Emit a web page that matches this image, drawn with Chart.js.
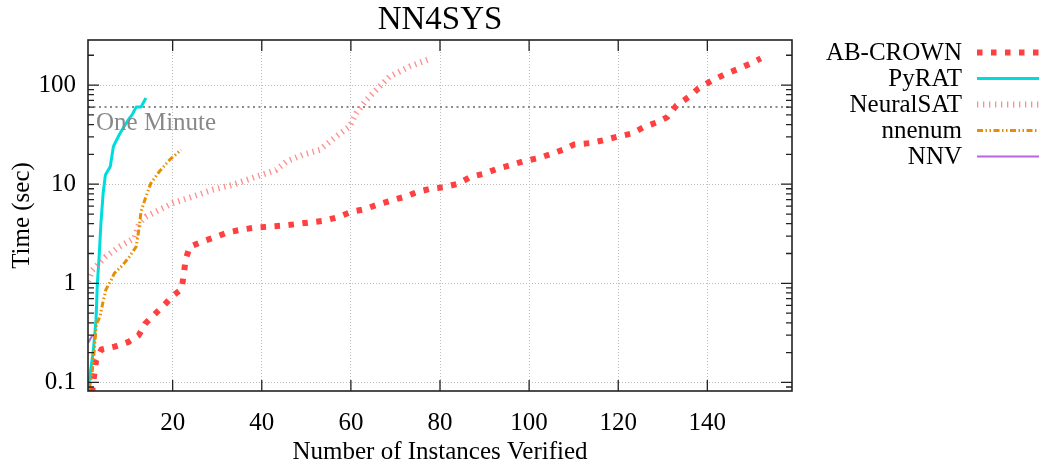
<!DOCTYPE html>
<html>
<head>
<meta charset="utf-8">
<title>NN4SYS</title>
<script src="https://cdn.jsdelivr.net/npm/chart.js@4/dist/chart.umd.min.js"></script>
<style>
  html, body { margin: 0; padding: 0; background: #fff; }
  canvas { display: block; }
</style>
</head>
<body>
<canvas id="myChart" width="1043" height="467"></canvas>
<script>
const FONT = '"Liberation Serif", "Times New Roman", serif';

// axis ticks
const xTicks = [20, 40, 60, 80, 100, 120, 140];
const yTicks = [0.1, 1, 10, 100];
const oneMinute = 60;

// series (instances verified -> cumulative time)
const abcrownX = [1.5, 2, 2.4, 2.8, 4, 7, 10, 12.4, 13.8, 16, 18.2, 20.2, 22, 22.5, 22.9, 23.8, 26.6, 29.4, 32.4, 35.4, 38.5, 41.7, 44.7, 48, 51, 54, 57, 60, 63, 66, 69, 72, 75, 78, 81, 84, 87, 90, 93, 96, 99, 102, 105, 108, 110, 114, 117, 120, 123, 126, 129, 131, 133, 136, 138, 141, 144, 147, 150, 152];
const abcrownY = [0.08, 0.085, 0.12, 0.165, 0.215, 0.23, 0.255, 0.3, 0.39, 0.49, 0.61, 0.76, 0.87, 1.24, 1.72, 2.33, 2.63, 2.91, 3.27, 3.48, 3.65, 3.73, 3.82, 3.97, 4.13, 4.28, 4.64, 5.25, 5.59, 6.22, 6.83, 7.45, 8.36, 9.03, 9.33, 10.1, 11.9, 12.8, 14.4, 15.6, 17.2, 18.3, 20.2, 22.6, 25.1, 26.1, 28, 30.3, 32.4, 38.2, 42.6, 47.5, 61.8, 76.8, 92.5, 111, 129, 146, 167, 186];

const pyratX = [1, 1.7, 2.2, 2.8, 3.1, 3.5, 3.9, 4.4, 4.9, 6, 6.7, 8, 9.1, 10.3, 10.9, 11.8, 12.9, 14];
const pyratY = [0.085, 0.144, 0.21, 0.43, 1, 1.86, 4.04, 8.1, 12.4, 15.1, 24, 31.5, 38.2, 46.4, 50.1, 60, 60, 74];

const neuralsatX = [1, 2, 5, 8, 11.4, 12.5, 14, 17, 20, 24.5, 29, 33.5, 38.7, 43.2, 45.5, 49.2, 53, 56.7, 59.7, 61.2, 63.5, 65.7, 68.7, 73.2, 78.1];
const neuralsatY = [1.05, 1.36, 1.86, 2.34, 2.85, 4.04, 4.7, 5.5, 6.43, 7.5, 8.8, 9.86, 11.9, 13.9, 16.9, 19.8, 22.2, 30.3, 38.2, 52, 71, 89.6, 122, 154, 187];

const nnenumX = [1.3, 1.9, 2.4, 2.9, 3.7, 4.3, 5, 6.2, 6.9, 8.8, 10.3, 11.8, 12.4, 12.9, 14, 15.1, 17, 19.3, 21.9];
const nnenumY = [0.087, 0.123, 0.21, 0.39, 0.46, 0.63, 0.86, 1.08, 1.26, 1.53, 1.86, 2.34, 3.45, 5.3, 7.5, 10.2, 13.4, 17.6, 22.2];

const nnvX = [1, 2];
const nnvY = [0.25, 0.3];

function pts(xs, ys) {
    return xs.map((x, i) => ({x: x, y: ys[i]}));
}

const gnuplotLook = {
    id: 'gnuplotLook',
    afterDatasetsDraw(chart) {
        const ctx = chart.ctx;
        const a = chart.chartArea;
        const xs = chart.scales.x, ys = chart.scales.y;
        ctx.save();
        // One Minute label
        ctx.fillStyle = '#888888';
        ctx.font = '25px ' + FONT;
        ctx.textAlign = 'left';
        ctx.textBaseline = 'alphabetic';
        ctx.fillText('One Minute', 96, 130);

        // inward ticks
        ctx.strokeStyle = '#222';
        ctx.lineWidth = 1.3;
        ctx.beginPath();
        xTicks.forEach(v => {
            const px = xs.getPixelForValue(v);
            ctx.moveTo(px, a.bottom); ctx.lineTo(px, a.bottom - 11);
            ctx.moveTo(px, a.top); ctx.lineTo(px, a.top + 11);
        });
        for (let e = -2; e <= 2; e++) {
            for (let m = 1; m <= 9; m++) {
                const v = m * Math.pow(10, e);
                if (v < ys.min || v > ys.max) continue;
                const py = ys.getPixelForValue(v);
                const len = m === 1 ? 11 : 6;
                ctx.moveTo(a.left, py); ctx.lineTo(a.left + len, py);
                ctx.moveTo(a.right, py); ctx.lineTo(a.right - len, py);
            }
        }
        ctx.stroke();

        // frame
        ctx.lineWidth = 1.6;
        ctx.strokeRect(a.left, a.top, a.right - a.left, a.bottom - a.top);
        ctx.restore();
    },
    afterDraw(chart) {
        const ctx = chart.ctx;
        const a = chart.chartArea;
        ctx.save();
        ctx.fillStyle = '#000';
        // title
        ctx.font = '33px ' + FONT;
        ctx.textAlign = 'center';
        ctx.textBaseline = 'alphabetic';
        ctx.fillText('NN4SYS', (a.left + a.right) / 2, 29);
        // axis titles
        ctx.font = '25px ' + FONT;
        ctx.fillText('Number of Instances Verified', (a.left + a.right) / 2, 459);
        ctx.save();
        ctx.translate(28.5, (a.top + a.bottom) / 2);
        ctx.rotate(-Math.PI / 2);
        ctx.fillText('Time (sec)', 0, 0);
        ctx.restore();

        // legend
        let row = 0;
        chart.data.datasets.forEach(ds => {
            if (!ds.inLegend) return;
            const y = 52.5 + row * 26;
            ctx.textAlign = 'right';
            ctx.textBaseline = 'middle';
            ctx.fillStyle = '#000';
            ctx.fillText(ds.label, 962, y + 1);
            ctx.beginPath();
            ctx.setLineDash(ds.borderDash || []);
            ctx.lineCap = 'butt';
            ctx.lineWidth = ds.borderWidth;
            ctx.strokeStyle = ds.borderColor;
            ctx.moveTo(977, y);
            ctx.lineTo(1039, y);
            ctx.stroke();
            row++;
        });
        ctx.restore();
    }
};

const ctx = document.getElementById('myChart').getContext('2d');
const myChart = new Chart(ctx, {
    type: 'line',
    data: {
        datasets: [
            {
                label: 'One Minute', inLegend: false,
                data: [{x: 1, y: oneMinute}, {x: 159, y: oneMinute}],
                borderColor: '#8c8c8c', borderWidth: 2, borderDash: [2, 3.5], order: 6
            },
            {
                label: 'AB-CROWN', inLegend: true, data: pts(abcrownX, abcrownY),
                borderColor: '#ff4040', borderWidth: 6, borderDash: [5.5, 8.5], order: 5
            },
            {
                label: 'PyRAT', inLegend: true, data: pts(pyratX, pyratY),
                borderColor: '#00dcdc', borderWidth: 3, order: 4
            },
            {
                label: 'NeuralSAT', inLegend: true, data: pts(neuralsatX, neuralsatY),
                borderColor: 'rgba(255,120,120,0.85)', borderWidth: 6, borderDash: [1.3, 4.7], order: 3
            },
            {
                label: 'nnenum', inLegend: true, data: pts(nnenumX, nnenumY),
                borderColor: '#e88e00', borderWidth: 3, borderDash: [6, 2.5, 1.5, 2.5, 1.5, 2.5], order: 2
            },
            {
                label: 'NNV', inLegend: true, data: pts(nnvX, nnvY),
                borderColor: '#b866e0', borderWidth: 2, order: 1
            }
        ]
    },
    options: {
        responsive: false,
        animation: false,
        devicePixelRatio: 1,
        layout: {
            padding: {left: 0, right: 251, top: 40, bottom: 0}
        },
        elements: {
            point: {radius: 0},
            line: {tension: 0, fill: false, borderCapStyle: 'butt', borderJoinStyle: 'round'}
        },
        plugins: {
            legend: {display: false},
            title: {display: false},
            tooltip: {enabled: false}
        },
        scales: {
            x: {
                type: 'linear',
                min: 1,
                max: 159,
                afterBuildTicks: scale => { scale.ticks = xTicks.map(v => ({value: v})); },
                afterFit: scale => { scale.height = 76; },
                grid: {color: '#bdbdbd', lineWidth: 1, drawTicks: false},
                border: {display: false, dash: [1, 2]},
                ticks: {
                    color: '#000',
                    padding: 17,
                    maxRotation: 0,
                    font: {family: FONT, size: 25},
                    callback: v => String(v)
                }
            },
            y: {
                type: 'logarithmic',
                min: 0.082,
                max: 285,
                afterBuildTicks: scale => { scale.ticks = yTicks.map(v => ({value: v})); },
                afterFit: scale => { scale.width = 88; },
                grid: {color: '#bdbdbd', lineWidth: 1, drawTicks: false},
                border: {display: false, dash: [1, 2]},
                ticks: {
                    color: '#000',
                    padding: 12,
                    font: {family: FONT, size: 25},
                    callback: v => String(v)
                }
            }
        }
    },
    plugins: [gnuplotLook]
});
</script>
</body>
</html>
